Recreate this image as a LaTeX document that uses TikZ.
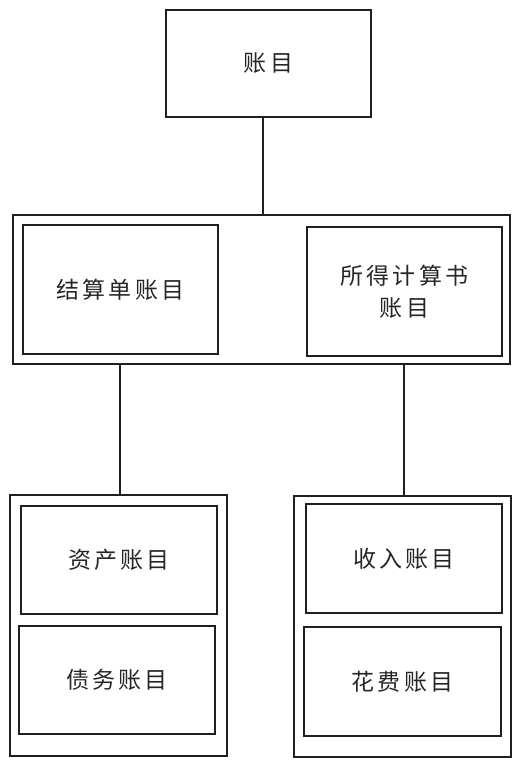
\documentclass[tikz,border=0pt]{standalone}
\usepackage{fontspec}
\newfontfamily\cjk[LetterSpace=14]{Noto Sans CJK SC}
\begin{document}
\begin{tikzpicture}[x=1pt,y=-1pt,
  box/.style={draw=black!88, line width=1.8pt, rectangle, inner sep=0pt},
  label/.style={font=\cjk\fontsize{23}{32}\selectfont, align=center, text=black!85},
  link/.style={draw=black!88, line width=1.8pt}]
  \useasboundingbox (0,0) rectangle (519,771);
  % root
  \node[box, minimum width=205pt, minimum height=107pt] (root) at (268.5,63.5) {};
  \node[label] (rootL) at (root.center) {账目};
  % middle group
  \node[box, minimum width=497pt, minimum height=149pt] (mid) at (261.5,289.5) {};
  \node[box, minimum width=195pt, minimum height=129pt] (bal) at (120.5,289.5) {};
  \node[label] (balL) at (bal.center) {结算单账目};
  \node[box, minimum width=195pt, minimum height=129pt] (inc) at (404.5,291.5) {};
  \node[label] (incL) at (inc.center) {所得计算书\\账目};
  % bottom left group
  \node[box, minimum width=217pt, minimum height=261pt] (bl) at (118.5,625.5) {};
  \node[box, minimum width=196pt, minimum height=108pt] (asset) at (119,560) {};
  \node[label] (assetL) at (asset.center) {资产账目};
  \node[box, minimum width=196pt, minimum height=108pt] (debt) at (117,680) {};
  \node[label] (debtL) at (debt.center) {债务账目};
  % bottom right group
  \node[box, minimum width=217pt, minimum height=261pt] (br) at (402.5,626.5) {};
  \node[box, minimum width=196pt, minimum height=109pt] (rev) at (404,558.5) {};
  \node[label] (revL) at (rev.center) {收入账目};
  \node[box, minimum width=197pt, minimum height=109pt] (exp) at (402.5,681.5) {};
  \node[label] (expL) at (exp.center) {花费账目};
  % connectors
  \coordinate (rootfoot) at (263,117);
  \coordinate (leftfoot) at (120,364);
  \coordinate (rightfoot) at (404,364);
  \draw[link] (rootfoot) -- (rootfoot |- mid.north);
  \draw[link] (leftfoot) -- (leftfoot |- bl.north);
  \draw[link] (rightfoot) -- (rightfoot |- br.north);
\end{tikzpicture}
\end{document}
